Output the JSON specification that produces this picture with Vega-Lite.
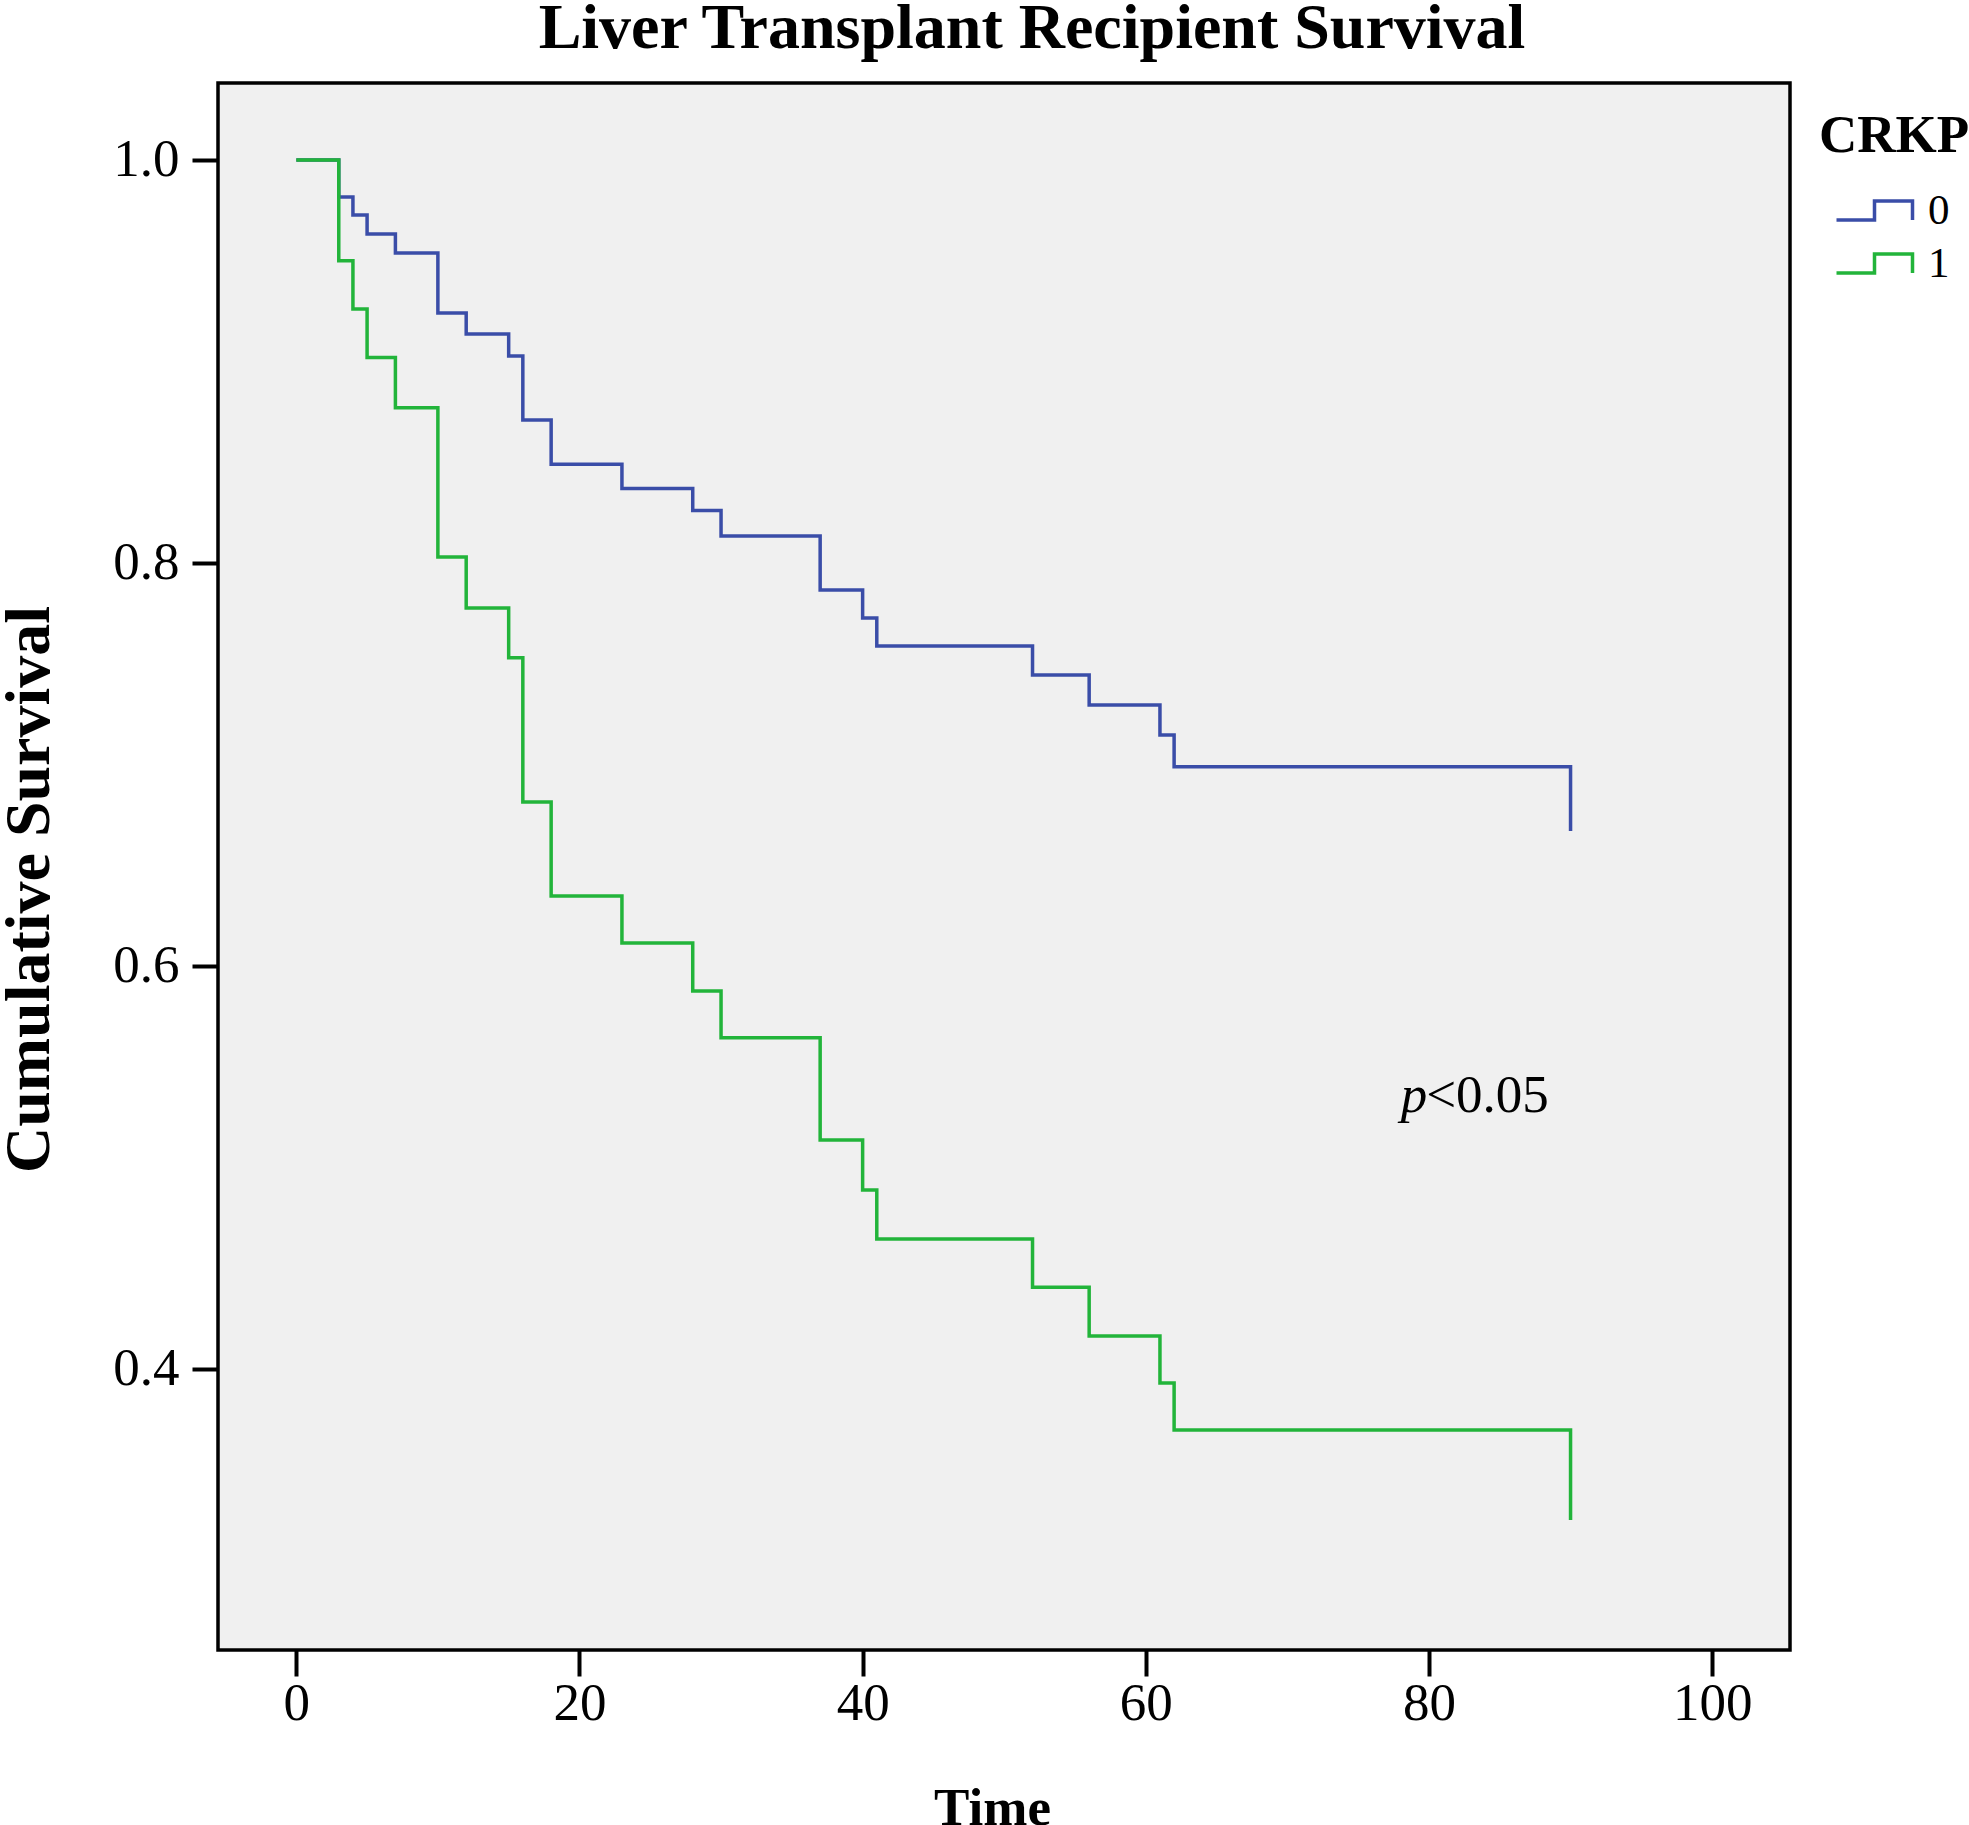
{
  "$schema": "https://vega.github.io/schema/vega-lite/v6.json",
  "autosize": {"type": "none"},
  "padding": {"left": 218, "top": 83, "right": 179, "bottom": 175},
  "width": 1572,
  "height": 1567,
  "background": "white",
  "title": {
    "text": "Liver Transplant Recipient Survival",
    "font": "Liberation Serif",
    "fontSize": 64,
    "fontWeight": "bold",
    "color": "black",
    "anchor": "middle",
    "frame": "group",
    "baseline": "alphabetic",
    "dx": 28,
    "dy": 67,
    "offset": 38
  },
  "config": {
    "view": {"stroke": "black", "strokeWidth": 3.5, "fill": "#f0f0f0"},
    "axis": {
      "domain": false,
      "grid": false,
      "tickColor": "black",
      "tickWidth": 4,
      "tickSize": 26,
      "labelFont": "Liberation Serif",
      "labelFontSize": 53,
      "labelColor": "black",
      "titleFont": "Liberation Serif",
      "titleFontWeight": "bold",
      "titleColor": "black"
    }
  },
  "datasets": {
    "km": [
      {"time": 0, "surv": 1.0, "CRKP": "0"},
      {"time": 3, "surv": 0.9816, "CRKP": "0"},
      {"time": 4, "surv": 0.9727, "CRKP": "0"},
      {"time": 5, "surv": 0.9633, "CRKP": "0"},
      {"time": 7, "surv": 0.9538, "CRKP": "0"},
      {"time": 10, "surv": 0.924, "CRKP": "0"},
      {"time": 12, "surv": 0.9136, "CRKP": "0"},
      {"time": 15, "surv": 0.9027, "CRKP": "0"},
      {"time": 16, "surv": 0.871, "CRKP": "0"},
      {"time": 18, "surv": 0.849, "CRKP": "0"},
      {"time": 23, "surv": 0.837, "CRKP": "0"},
      {"time": 28, "surv": 0.826, "CRKP": "0"},
      {"time": 30, "surv": 0.8134, "CRKP": "0"},
      {"time": 37, "surv": 0.7866, "CRKP": "0"},
      {"time": 40, "surv": 0.7727, "CRKP": "0"},
      {"time": 41, "surv": 0.7588, "CRKP": "0"},
      {"time": 52, "surv": 0.7444, "CRKP": "0"},
      {"time": 56, "surv": 0.7295, "CRKP": "0"},
      {"time": 61, "surv": 0.7146, "CRKP": "0"},
      {"time": 62, "surv": 0.6988, "CRKP": "0"},
      {"time": 90, "surv": 0.667, "CRKP": "0"},
      {"time": 0, "surv": 1.0, "CRKP": "1"},
      {"time": 3, "surv": 0.950, "CRKP": "1"},
      {"time": 4, "surv": 0.926, "CRKP": "1"},
      {"time": 5, "surv": 0.902, "CRKP": "1"},
      {"time": 7, "surv": 0.877, "CRKP": "1"},
      {"time": 10, "surv": 0.803, "CRKP": "1"},
      {"time": 12, "surv": 0.7777, "CRKP": "1"},
      {"time": 15, "surv": 0.7529, "CRKP": "1"},
      {"time": 16, "surv": 0.6814, "CRKP": "1"},
      {"time": 18, "surv": 0.6347, "CRKP": "1"},
      {"time": 23, "surv": 0.6114, "CRKP": "1"},
      {"time": 28, "surv": 0.5876, "CRKP": "1"},
      {"time": 30, "surv": 0.5643, "CRKP": "1"},
      {"time": 37, "surv": 0.5136, "CRKP": "1"},
      {"time": 40, "surv": 0.4888, "CRKP": "1"},
      {"time": 41, "surv": 0.4645, "CRKP": "1"},
      {"time": 52, "surv": 0.4405, "CRKP": "1"},
      {"time": 56, "surv": 0.4164, "CRKP": "1"},
      {"time": 61, "surv": 0.393, "CRKP": "1"},
      {"time": 62, "surv": 0.3697, "CRKP": "1"},
      {"time": 90, "surv": 0.325, "CRKP": "1"}
    ],
    "note": [
      {"x": 78.0, "y": 0.5273, "part": "p"}
    ],
    "note2": [
      {"x": 79.8, "y": 0.5273, "part": "<0.05"}
    ]
  },
  "layer": [
    {
      "data": {"name": "km"},
      "mark": {"type": "line", "interpolate": "step-after", "strokeWidth": 3.5},
      "encoding": {
        "x": {
          "field": "time",
          "type": "quantitative",
          "scale": {"domain": [-5.53, 105.5], "nice": false, "zero": false},
          "axis": {
            "values": [0, 20, 40, 60, 80, 100],
            "labelPadding": 1,
            "title": "Time",
            "titleFontSize": 53,
            "titleBaseline": "alphabetic",
            "titleX": 774,
            "titleY": 174
          }
        },
        "y": {
          "field": "surv",
          "type": "quantitative",
          "scale": {"domain": [0.2605, 1.0382], "nice": false, "zero": false},
          "axis": {
            "values": [0.4, 0.6, 0.8, 1.0],
            "format": ".1f",
            "labelPadding": 13,
            "title": "Cumulative Survival",
            "titleFontSize": 64,
            "titleBaseline": "alphabetic",
            "titleAngle": 270,
            "titleAlign": "center",
            "titleX": -170,
            "titleY": 806
          }
        },
        "color": {
          "field": "CRKP",
          "type": "nominal",
          "scale": {"domain": ["0", "1"], "range": ["#3A4DA8", "#22B43A"]},
          "legend": {
            "orient": "none",
            "legendX": 1601,
            "legendY": 27,
            "padding": 0,
            "title": "CRKP",
            "titleFont": "Liberation Serif",
            "titleFontSize": 53,
            "titleFontWeight": "bold",
            "titleColor": "black",
            "titlePadding": 26,
            "labelFont": "Liberation Serif",
            "labelFontSize": 43,
            "labelColor": "black",
            "labelOffset": 32,
            "symbolType": "M-2,0.5L0,0.5L0,-0.5L2,-0.5L2,0.5",
            "symbolSize": 1444,
            "symbolStrokeWidth": 3.5,
            "symbolFillColor": "transparent",
            "symbolOffset": 34,
            "rowPadding": 9
          }
        }
      }
    },
    {
      "data": {"name": "note"},
      "mark": {"type": "text", "font": "Liberation Serif", "fontSize": 53, "fontStyle": "italic", "align": "left", "baseline": "alphabetic", "color": "black"},
      "encoding": {
        "x": {"field": "x", "type": "quantitative"},
        "y": {"field": "y", "type": "quantitative"},
        "text": {"field": "part"}
      }
    },
    {
      "data": {"name": "note2"},
      "mark": {"type": "text", "font": "Liberation Serif", "fontSize": 53, "align": "left", "baseline": "alphabetic", "color": "black"},
      "encoding": {
        "x": {"field": "x", "type": "quantitative"},
        "y": {"field": "y", "type": "quantitative"},
        "text": {"field": "part"}
      }
    }
  ]
}
